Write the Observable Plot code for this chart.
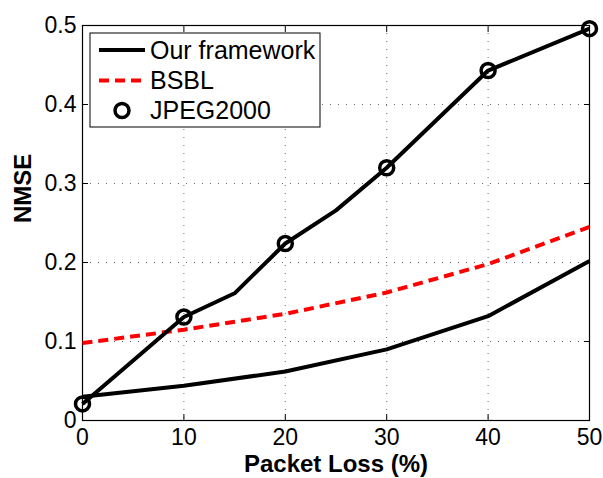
<!DOCTYPE html>
<html><head>
<meta charset="utf-8">
<script src="https://cdn.jsdelivr.net/npm/d3@7"></script>
<script src="https://cdn.jsdelivr.net/npm/@observablehq/plot@0.6"></script>
<style>body{margin:0;background:#fff} #chart{width:603px;height:478px;}</style>
</head><body><div id="chart"></div>
<script>
// ---- data ----
const packetLoss = [0, 10, 20, 30, 40, 50];
const ourFramework = [0.030, 0.044, 0.062, 0.090, 0.132, 0.202];
const bsbl = [0.098, 0.115, 0.135, 0.162, 0.198, 0.245];
const jpegX = [0, 10, 15, 20, 25, 30, 40, 50];
const jpeg2000 = [0.021, 0.131, 0.161, 0.224, 0.266, 0.320, 0.443, 0.496];
const jpegMarkerX = [0, 10, 20, 30, 40, 50];
const xTicks = [0, 10, 20, 30, 40, 50];
const yTicks = [0, 0.1, 0.2, 0.3, 0.4, 0.5];
const yTickLabels = ["0", "0.1", "0.2", "0.3", "0.4", "0.5"];
const gridX = [10, 20, 30, 40];
const gridY = [0.1, 0.2, 0.3, 0.4];
const seriesNames = ["Our framework", "BSBL", "JPEG2000"];
const xTitle = "Packet Loss (%)";
const yTitle = "NMSE";

const ourData = packetLoss.map((x, i) => ({x, y: ourFramework[i]}));
const bsblData = packetLoss.map((x, i) => ({x, y: bsbl[i]}));
const jpegData = jpegX.map((x, i) => ({x, y: jpeg2000[i]}));
const jpegMarkers = jpegData.filter(d => jpegMarkerX.includes(d.x));

const font = "'Liberation Sans', Arial, Helvetica, sans-serif";
const gridStyle = {stroke: "#666", strokeOpacity: 1, strokeWidth: 1, strokeDasharray: "1,7"};

const plot = Plot.plot({
  width: 603, height: 478,
  marginLeft: 82, marginRight: 14, marginTop: 25, marginBottom: 58,
  style: {fontFamily: font, fontSize: "23px", color: "#000", background: "#fff"},
  x: {domain: [0, 50]},
  y: {domain: [0, 0.5]},
  marks: [
    Plot.gridX(gridX, gridStyle),
    Plot.gridY(gridY, gridStyle),
    Plot.axisX(xTicks, {anchor: "bottom", tickSize: -6, tickPadding: 14, fontSize: 23, label: null}),
    Plot.axisX(xTicks, {anchor: "top", tickSize: -6, tickFormat: () => "", label: null}),
    Plot.axisY(yTicks, {anchor: "left", tickSize: -6, tickPadding: 12, fontSize: 23, label: null,
      tickFormat: d => yTickLabels[yTicks.indexOf(d)]}),
    Plot.axisY(yTicks, {anchor: "right", tickSize: -6, tickFormat: () => "", label: null}),
    Plot.frame({stroke: "#000", strokeWidth: 1.2}),
    Plot.line(ourData, {x: "x", y: "y", stroke: "#000", strokeWidth: 4, strokeLinecap: "butt", strokeLinejoin: "miter"}),
    Plot.line(bsblData, {x: "x", y: "y", stroke: "#ff0000", strokeWidth: 4, strokeDasharray: "10,6", strokeLinecap: "butt"}),
    Plot.line(jpegData, {x: "x", y: "y", stroke: "#000", strokeWidth: 4, strokeLinecap: "butt", strokeLinejoin: "miter"}),
    Plot.dot(jpegMarkers, {x: "x", y: "y", r: 7, stroke: "#000", strokeWidth: 3.5, fill: "none"}),
    Plot.text([xTitle], {frameAnchor: "bottom", dy: 44, fontSize: 24, fontWeight: "bold", lineAnchor: "middle"}),
    Plot.text([yTitle], {frameAnchor: "left", dx: -59, rotate: -90, fontSize: 24, fontWeight: "bold", lineAnchor: "middle"})
  ]
});
document.getElementById("chart").appendChild(plot);

// ---- legend inside the plot area ----
const svg = d3.select(plot);
const lg = svg.append("g").attr("transform", "translate(90,33)")
  .style("font-family", font).style("font-size", "25px").attr("text-anchor", "start");
lg.append("rect").attr("width", 230).attr("height", 94)
  .attr("fill", "#fff").attr("stroke", "#000").attr("stroke-width", 1);
const rowY = [17, 47.5, 77.5];
// row 1: black solid line
lg.append("line").attr("x1", 9).attr("x2", 55).attr("y1", rowY[0]).attr("y2", rowY[0])
  .attr("stroke", "#000").attr("stroke-width", 4);
// row 2: red dashed
lg.append("line").attr("x1", 9).attr("x2", 55).attr("y1", rowY[1]).attr("y2", rowY[1])
  .attr("stroke", "#ff0000").attr("stroke-width", 4).attr("stroke-dasharray", "10,6");
// row 3: circle marker
lg.append("circle").attr("cx", 32).attr("cy", rowY[2]).attr("r", 7)
  .attr("fill", "none").attr("stroke", "#000").attr("stroke-width", 3.5);
seriesNames.forEach((name, i) => {
  lg.append("text").attr("x", 60).attr("y", rowY[i]).attr("dy", "0.35em")
    .attr("text-anchor", "start").attr("fill", "#000").text(name);
});
</script>
</body></html>
